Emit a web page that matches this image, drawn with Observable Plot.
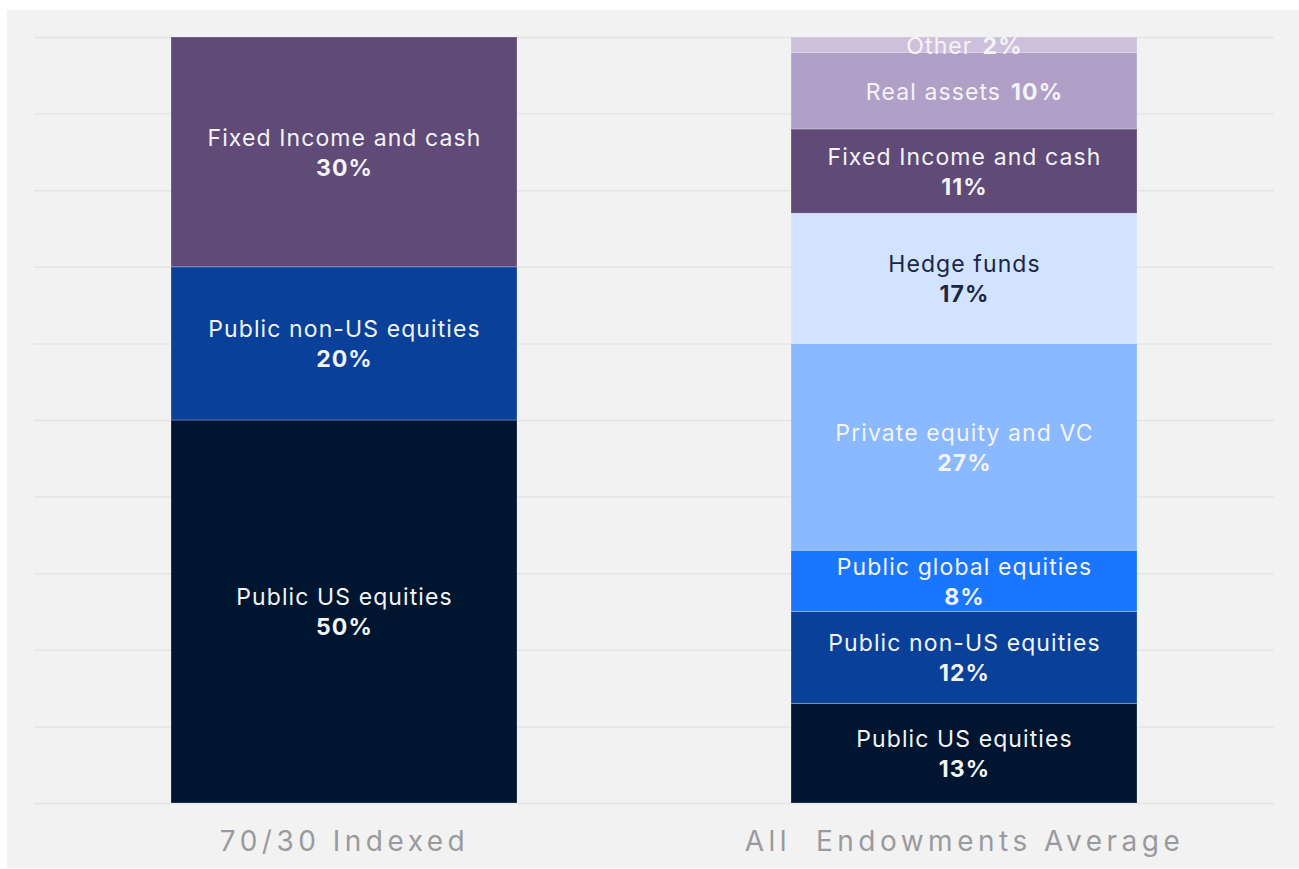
<!DOCTYPE html>
<html>
<head>
<meta charset="utf-8">
<script src="https://cdn.jsdelivr.net/npm/d3@7"></script>
<script src="https://cdn.jsdelivr.net/npm/@observablehq/plot@0.6"></script>
<style>
  html, body { margin: 0; padding: 0; background: #ffffff; }
  #chart { position: absolute; left: 7px; top: 10px; }
  #chart svg text { white-space: pre; }
</style>
</head>
<body>
<div id="chart"></div>
<script>
// Portfolios (x categories)
const groups = ["70/30 Indexed", "All  Endowments Average"];

// Asset classes, stacked bottom to top
const categories = [
  "Public US equities",
  "Public non-US equities",
  "Public global equities",
  "Private equity and VC",
  "Hedge funds",
  "Fixed Income and cash",
  "Real assets",
  "Other"
];

// Allocation shares (%)
const indexedValues   = [50, 20, 0, 0, 0, 30, 0, 0];
const endowmentValues = [13, 12, 8, 27, 17, 11, 10, 2];

// Fill colours per asset class
const colors = ["#001530", "#08409a", "#1a75ff", "#8ab9ff", "#d2e3ff", "#5f4a78", "#b0a0c7", "#cdc0db"];
// Label colours per asset class
const labelColors = ["#f4f4f6", "#f4f4f6", "#f4f4f6", "#f4f4f6", "#1b2642", "#f4f4f6", "#f4f4f6", "#f4f4f6"];
// Asset classes whose name and value share one line
const inlineLabels = ["Real assets", "Other"];

const gridTicks = d3.range(0, 101, 10);

const data = [];
[indexedValues, endowmentValues].forEach((vals, g) => {
  categories.forEach((c, i) => {
    if (vals[i] > 0) data.push({group: groups[g], category: c, value: vals[i], idx: i});
  });
});

const base = {x: "group", y: "value", order: null};

const plot = Plot.plot({
  width: 1292,
  height: 858,
  marginLeft: 27,
  marginRight: 25,
  marginTop: 27,
  marginBottom: 65,
  style: {background: "#f2f2f2", fontFamily: "Inter, 'Open Sans', sans-serif"},
  x: {domain: groups, paddingInner: 0.442, paddingOuter: 0.221, label: null},
  y: {domain: [0, 100], axis: null},
  color: {domain: categories, range: colors},
  marks: [
    Plot.gridY(gridTicks, {stroke: "#e4e4e4", strokeOpacity: 1, strokeWidth: 1.5}),
    Plot.barY(data, Plot.stackY({...base, fill: "category", stroke: "#ffffff", strokeOpacity: 0.25, strokeWidth: 1})),
    // two-line labels: name
    Plot.text(data, Plot.stackY({
      ...base,
      text: d => inlineLabels.includes(d.category) ? null : d.category,
      fill: d => labelColors[d.idx],
      fontSize: 23,
      dy: -14
    })),
    // two-line labels: value
    Plot.text(data, Plot.stackY({
      ...base,
      text: d => inlineLabels.includes(d.category) ? null : d.value + "%",
      fill: d => labelColors[d.idx],
      fontSize: 23,
      fontWeight: "bold",
      dy: 16
    })),
    // inline labels
    Plot.text(data, Plot.stackY({
      ...base,
      text: d => inlineLabels.includes(d.category) ? d.category + "|" + d.value + "%" : null,
      fill: d => labelColors[d.idx],
      fontSize: 23,
      dy: 1.5
    })),
    Plot.axisX({tickSize: 0, tickPadding: 28, fontSize: 28, fill: "#9a9a9e", label: null})
  ]
});

// split inline labels into regular + bold parts
d3.select(plot).selectAll("text").each(function() {
  const t = this.textContent;
  if (t && t.includes("|") && this.childElementCount === 0) {
    const [name, val] = t.split("|");
    const sel = d3.select(this);
    sel.text(null);
    sel.append("tspan").text(name);
    sel.append("tspan").attr("font-weight", "bold").attr("dx", 10).text(val);
  }
});
// segment label letter spacing
d3.select(plot).selectAll("g[aria-label='text'] text").style("letter-spacing", "1.1px");
// axis label letter spacing
d3.select(plot).selectAll("g[aria-label='x-axis tick label'] text").style("letter-spacing", "4.5px");

document.getElementById("chart").append(plot);
</script>
</body>
</html>
